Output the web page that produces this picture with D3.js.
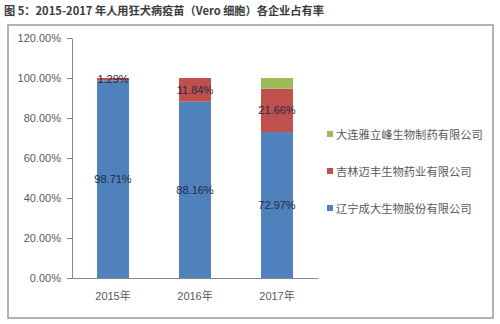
<!DOCTYPE html>
<html>
<head>
<meta charset="utf-8">
<script src="https://cdn.jsdelivr.net/npm/d3@7"></script>
<style>
  body { margin: 0; background: #fff; }
  svg { font-family: "Noto Sans CJK SC", "DejaVu Sans", sans-serif; }
  .os text { fill: #595959; font-size: 11px; font-family: "Liberation Sans", "Noto Sans CJK SC", sans-serif; }
  .os line, .os path { stroke: #868686; }
</style>
</head>
<body>
<div id="okvir"></div>
<script>
// podaci
const godine = ["2015年", "2016年", "2017年"]
const tvrtke = ["辽宁成大生物股份有限公司", "吉林迈丰生物药业有限公司", "大连雅立峰生物制药有限公司"]
const liaoning = [98.71, 88.16, 72.97]
const jilin = [1.29, 11.84, 21.66]
const dalian = [0, 0, 5.37]
const yTickovi = [0, 20, 40, 60, 80, 100, 120]
const boje = ["#4F81BD", "#C0504D", "#9BBB59"]
const naslov = "图 5：2015-2017 年人用狂犬病疫苗（Vero 细胞）各企业占有率"

const tablica = godine.map((g, i) => ({ godina: g, s0: liaoning[i], s1: jilin[i], s2: dalian[i] }))
const serije = d3.stack().keys(["s0", "s1", "s2"])(tablica)

const dim = { sirina: 500, visina: 324 }
const okvir = d3.select("#okvir").append("svg")
  .attr("width", dim.sirina)
  .attr("height", dim.visina)

// naslov
okvir.append("text")
  .attr("x", 4).attr("y", 15)
  .attr("font-size", 11.2).attr("font-weight", "bold")
  .attr("fill", "#3a3a3a")
  .text(naslov)

// vanjski okvir
okvir.append("rect")
  .attr("x", 8).attr("y", 25)
  .attr("width", 485).attr("height", 293)
  .attr("fill", "none").attr("stroke", "#9a9a9a").attr("stroke-width", 1.5)

// skale
const xSkala = d3.scaleBand().domain(godine).range([72, 318]).paddingInner(0.61).paddingOuter(0.305)
const ySkala = d3.scaleLinear().domain([0, 120]).range([278, 38])

// stupci
const grupe = okvir.append("g").selectAll("g")
  .data(serije).enter().append("g")
    .attr("fill", (d, i) => boje[i])

grupe.selectAll("rect")
  .data(d => d)
  .enter().append("rect")
    .attr("x", d => xSkala(d.data.godina))
    .attr("width", xSkala.bandwidth())
    .attr("y", d => ySkala(d[1]))
    .attr("height", d => ySkala(d[0]) - ySkala(d[1]))

// oznake vrijednosti (samo prva dva niza)
serije.slice(0, 2).forEach(s => {
  okvir.append("g").selectAll("text")
    .data(s)
    .enter().append("text")
      .attr("x", d => xSkala(d.data.godina) + xSkala.bandwidth() / 2)
      .attr("y", d => ySkala((d[0] + d[1]) / 2) + 4)
      .attr("text-anchor", "middle")
      .attr("font-size", 11)
      .attr("font-family", "Liberation Sans, sans-serif")
      .attr("fill", "#1f2a44")
      .text(d => (d[1] - d[0]).toFixed(2) + "%")
})

// osi
okvir.append("g")
  .attr("class", "os")
  .attr("transform", "translate(72,0)")
  .call(d3.axisLeft(ySkala).tickValues(yTickovi).tickFormat(d => d.toFixed(2) + "%").tickSize(5).tickSizeOuter(0).tickPadding(6))

const xOs = okvir.append("g")
  .attr("class", "os")
  .attr("transform", "translate(0,278)")
  .call(d3.axisBottom(xSkala).tickSize(0).tickPadding(14))
xOs.selectAll("text").attr("font-family", "Noto Sans CJK SC, sans-serif")

// legenda
const legenda = okvir.append("g").selectAll("g")
  .data(tvrtke.map((t, i) => ({ t, i })).reverse())
  .enter().append("g")
    .attr("transform", (d, j) => `translate(327, ${135 + j * 37})`)

legenda.append("rect")
  .attr("y", -4).attr("width", 6).attr("height", 6)
  .attr("fill", d => boje[d.i])

legenda.append("text")
  .attr("x", 9).attr("y", 4)
  .attr("font-size", 11.3)
  .attr("fill", "#595959")
  .text(d => d.t)
</script>
</body>
</html>
